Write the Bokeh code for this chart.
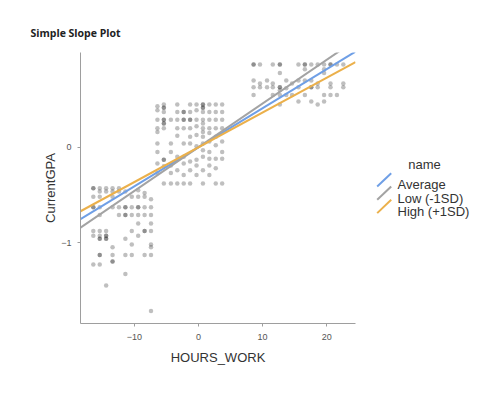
from bokeh.plotting import figure
from bokeh.layouts import row
from bokeh.models import Range1d, FixedTicker
from bokeh.core.properties import value
from bokeh.embed import file_html
from bokeh.resources import INLINE

# ---------------- data ----------------
hours_cols = [-16.4, -15.4, -14.4, -13.4, -12.4, -11.4, -10.4, -9.4, -8.4, -7.4,
              -6.4, -5.4, -4.3, -3.3, -2.3, -1.3, -0.3, 0.7, 1.7, 2.7, 3.7,
              8.6, 9.6, 10.7, 11.6, 12.7, 13.7, 14.6, 15.6, 16.6, 17.6, 18.6, 19.6, 20.6, 21.6, 22.6]

gpa_by_col = [
    [-0.43, -0.43, -0.52, -0.63, -0.63, -0.88, -0.93, -1.23],
    [-0.43, -0.465, -0.52, -0.63, -0.71, -0.88, -0.93, -0.96, -0.96, -1.13, -1.13, -1.23],
    [-0.43, -0.465, -0.88, -0.93, -0.93, -0.96, -0.96, -1.45],
    [-0.43, -0.465, -0.52, -0.63, -1.05, -1.13, -1.20, -1.20],
    [-0.43, -0.465, -0.63, -0.71],
    [-0.465, -0.63, -0.63, -0.71, -0.71, -0.96, -1.13, -1.33],
    [-0.52, -0.63, -0.71, -0.88, -1.02, -1.13],
    [-0.45, -0.52, -0.63, -0.63, -0.71, -0.80, -0.93],
    [-0.48, -0.52, -0.63, -0.71, -0.88, -0.88, -1.13],
    [-0.545, -0.63, -0.71, -0.80, -0.88, -1.02, -1.05, -1.13, -1.72],
    [0.43, 0.39, 0.29, 0.20, 0.16, 0.04, -0.05, -0.17, -0.27],
    [0.45, 0.415, 0.415, 0.37, 0.29, 0.29, 0.25, 0.25, 0.20, -0.13, -0.13, -0.20, -0.38],
    [0.29, 0.04, -0.05, -0.19, -0.27, -0.38],
    [0.45, 0.37, 0.29, 0.20, 0.12, -0.10, -0.24, -0.38],
    [0.37, 0.37, 0.29, 0.29, 0.20, 0.04, -0.10, -0.17, -0.29, -0.38],
    [0.45, 0.37, 0.29, 0.29, 0.20, 0.11, 0.04, -0.15, -0.24, -0.38],
    [0.45, 0.39, 0.29, 0.22, 0.13, 0.01, -0.13, -0.19, -0.29],
    [0.45, 0.45, 0.415, 0.415, 0.37, 0.29, 0.25, 0.20, 0.16, 0.11, 0.04, -0.03, -0.10, -0.24, -0.38],
    [0.45, 0.37, 0.29, 0.20, 0.15, 0.06, -0.05, -0.12, -0.19, -0.29],
    [0.45, 0.37, 0.29, 0.20, 0.11, 0.02, -0.12, -0.22, -0.38],
    [0.45, 0.37, 0.29, 0.20, 0.06, -0.05, -0.12, -0.38],
    [0.87, 0.87, 0.70, 0.63, 0.55],
    [0.87, 0.67, 0.63],
    [0.70, 0.63],
    [0.87, 0.67, 0.63, 0.55],
    [0.87, 0.87, 0.78, 0.63, 0.63, 0.60, 0.55, 0.45],
    [0.70, 0.62, 0.55],
    [0.67, 0.55],
    [0.87, 0.70, 0.63, 0.48],
    [0.87, 0.87, 0.82, 0.70, 0.55],
    [0.87, 0.70, 0.63, 0.63, 0.48],
    [0.87, 0.67, 0.63, 0.45],
    [0.87, 0.82, 0.78, 0.55, 0.48],
    [0.87, 0.87, 0.67, 0.63, 0.55],
    [0.87, 0.55],
    [0.87, 0.67, 0.63],
]

series_names = ["Average", "Low (-1SD)", "High (+1SD)"]
series_slopes = [0.0410, 0.0459, 0.0365]
series_intercepts = [0.0, 0.0, 0.0]
series_colors = ["#6F9FE6", "#A3A3A3", "#EBB04B"]

x_ticks = [-10, 0, 10, 20]
y_ticks = [-1, 0]

# ---------------- build ----------------
hours = []
gpa = []
for h, ys in zip(hours_cols, gpa_by_col):
    for y in ys:
        hours.append(h)
        gpa.append(y)

x_lo, x_hi = -18.4, 24.5
y_lo, y_hi = -1.85, 0.995

FONT = "Liberation Sans"
H = 389
TOP, BOTTOM = 52, 66

p = figure(width=368, height=H, x_range=Range1d(x_lo, x_hi), y_range=Range1d(y_lo, y_hi),
           output_backend="svg", toolbar_location=None,
           min_border_left=80, min_border_right=13, min_border_top=TOP, min_border_bottom=BOTTOM,
           title="Simple Slope Plot")
p.title.text_font = "Open Sans"
p.title.text_font_style = "bold"
p.title.text_font_size = "10.5px"
p.title.text_color = "#222222"
p.title.align = "left"
p.title.offset = -50
p.title.standoff = 26
p.grid.visible = False
p.outline_line_color = None

p.scatter(hours, gpa, size=4.5, fill_color="black", fill_alpha=0.25, line_color=None)

for name, slope, icpt, col in zip(series_names, series_slopes, series_intercepts, series_colors):
    xs = [x_lo, x_hi]
    ys = [icpt + slope * x for x in xs]
    p.line(xs, ys, line_color=col, line_width=2)

p.xaxis.ticker = FixedTicker(ticks=x_ticks)
p.yaxis.ticker = FixedTicker(ticks=y_ticks)
p.xaxis.axis_label = "HOURS_WORK"
p.yaxis.axis_label = "CurrentGPA"
for ax in (p.xaxis[0], p.yaxis[0]):
    ax.axis_line_color = "#9E9E9E"
    ax.major_tick_line_color = "#9E9E9E"
    ax.major_tick_out = 3
    ax.major_tick_in = 0
    ax.minor_tick_line_color = None
    ax.major_label_text_font = FONT
    ax.major_label_text_font_size = "9px"
    ax.major_label_text_color = "#555555"
    ax.major_label_standoff = 6
    ax.axis_label_text_font = FONT
    ax.axis_label_text_font_size = "13px"
    ax.axis_label_text_font_style = "normal"
    ax.axis_label_text_color = "#333333"
p.xaxis[0].major_label_standoff = 7
p.xaxis[0].axis_label_standoff = 7
p.yaxis[0].axis_label_standoff = 0

# ---------------- legend panel (page-pixel coordinates) ----------------
lg = figure(width=122, height=H, x_range=Range1d(368, 490), y_range=Range1d(H - BOTTOM, TOP),
            output_backend="svg", toolbar_location=None,
            min_border_left=0, min_border_right=0, min_border_top=TOP, min_border_bottom=BOTTOM,
            x_axis_location=None, y_axis_location=None)
lg.grid.visible = False
lg.outline_line_color = None

lg.text(x=[407.7], y=[164.0], text=["name"], text_font=value(FONT), text_font_size="13px",
        text_color="#333333", text_baseline="alphabetic")
n = len(series_names)
step = 13.3
lg.segment(x0=[376.7] * n, x1=[390.7] * n,
           y0=[186.0 + step * i for i in range(n)], y1=[172.7 + step * i for i in range(n)],
           line_color=series_colors, line_width=2)
lg.text(x=[397.0] * n, y=[184.2 + step * i for i in range(n)], text=series_names,
        text_font=value(FONT), text_font_size="13px", text_color="#333333",
        text_baseline="alphabetic")

layout = row(p, lg)
open("out.html", "w").write(file_html(layout, INLINE))
